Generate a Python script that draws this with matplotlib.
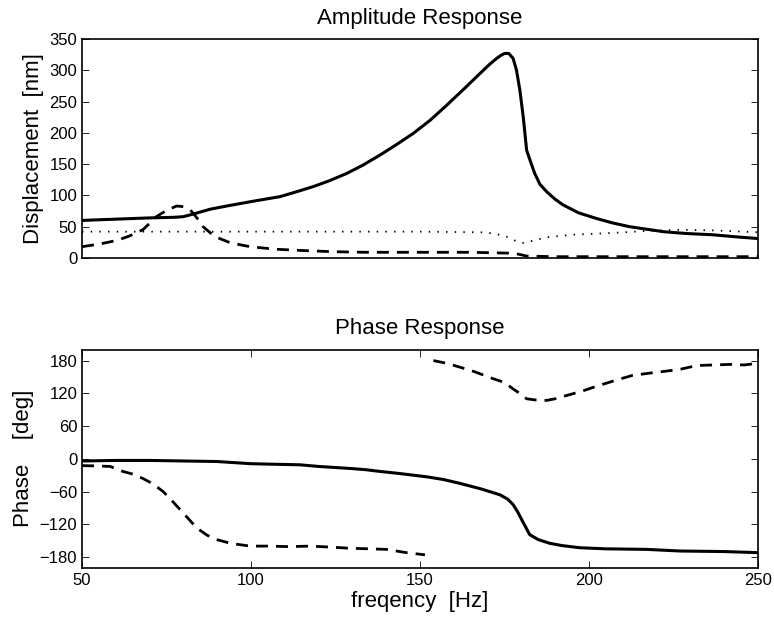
import matplotlib.pyplot as plt
import numpy as np

plt.rcParams['font.family'] = ['Liberation Sans', 'DejaVu Sans']
plt.rcParams['xtick.direction'] = 'in'
plt.rcParams['ytick.direction'] = 'in'

# amplitude: solid line
amp1_f = [50, 60, 70, 77.5, 80, 82.8, 88, 93.8, 101, 108.6, 113, 118.4, 123, 128.3, 133, 138.2, 143,
          148, 153, 157.9, 163, 167.8, 170.5, 172.7, 174, 175.1, 176.3, 177.6, 178.6, 179.6, 180.6,
          181.6, 183, 184, 185.5, 187.5, 190, 192.3, 197, 202.3, 207, 212, 217, 222, 229, 236.7, 243, 250]
amp1_v = [60, 62, 64, 65, 66, 70, 78, 84, 91, 98, 105, 114, 123, 135, 148, 164.5, 181,
          199, 220, 244, 270, 295, 309, 319, 324, 327, 327, 319, 300, 268, 225,
          172, 150, 135, 118, 106, 94, 85, 72, 63, 56, 50, 46, 42, 39, 37, 34, 31]

# amplitude: dashed line
amp2_f = [50, 55, 60.3, 64, 68, 72, 75, 78, 80, 82, 84, 85.8, 88, 89.8, 94, 99.7, 107, 114.5, 124, 134,
          150, 165, 177.6, 180, 181.5, 190, 210, 230, 250]
amp2_v = [18, 22, 28, 35, 45, 66, 76, 83, 82, 77, 64, 50, 40, 33, 24, 18, 14, 12, 10, 9,
          9, 9, 7.5, 5, 3, 2, 2, 2, 2]

# amplitude: dotted line
amp3_f = [50, 80, 100, 130, 150, 168, 172, 175.6, 178, 180.5, 183, 187.5, 195, 207, 217, 227, 237, 250]
amp3_v = [42, 42, 42, 42, 42, 41, 39, 34, 28, 24, 27, 33, 37, 40, 43, 45, 44, 41]

# phase: solid line
ph1_f = [50, 60, 70, 80, 90, 100, 107, 114.5, 120, 130, 134, 138, 144, 152, 157, 161.8, 168, 173.7,
         176, 177.6, 179, 180.6, 182.5, 185, 188.5, 192, 197.3, 205, 217, 227, 240, 250]
ph1_v = [-4, -3, -3, -4, -5, -9, -10, -11, -14, -18, -20, -23, -27, -33, -38, -45, -55, -66,
         -74, -84, -98, -117, -139, -148, -155, -159, -163, -165, -166, -169, -170, -172]

# phase: dashed line, lower part (before wrap)
ph2a_f = [50, 54, 58.3, 62, 65, 68, 71, 74, 76.5, 79, 81.5, 84, 87, 89.8, 94, 99.7, 105, 111.5, 117.5,
          124, 129.3, 135, 140, 146, 151.5]
ph2a_v = [-12.5, -13, -14, -23, -28, -36, -46, -60, -76, -93, -110, -127, -140, -148, -155, -160, -160,
          -161, -160, -162, -164, -165, -166, -172, -176]

# phase: dashed line, upper part (after wrap)
ph2b_f = [154, 158, 161.8, 166, 171.6, 175, 177.6, 180, 181.6, 184, 187.5, 190, 193.4, 198, 202.3,
          208, 213, 218, 222, 227, 232, 237, 241.7, 246, 250]
ph2b_v = [180, 175, 168, 160, 147, 140, 128, 118, 110, 108, 107, 110, 116, 124, 133,
          144, 153, 157, 160, 164, 171, 172, 173, 172, 175]

fig = plt.figure(figsize=(7.74, 6.2), dpi=100)

ax1 = fig.add_axes([0.106, 0.584, 0.873, 0.353])
ax1.plot(amp1_f, amp1_v, 'k-', lw=2.2)
ax1.plot(amp2_f, amp2_v, 'k--', lw=2.0, dashes=(4.3, 2.9))
ax1.plot(amp3_f, amp3_v, 'k:', lw=1.3, dashes=(0.8, 4))
ax1.set_xlim(50, 250)
ax1.set_ylim(0, 350)
ax1.set_xticks([])
ax1.set_yticks(np.arange(0, 351, 50))
ax1.tick_params(axis='y', right=True, labelsize=12, length=5, width=0.6)
ax1.set_ylabel('Displacement  [nm]', fontsize=16)
ax1.set_title('Amplitude Response', fontsize=16, pad=11)

ax2 = fig.add_axes([0.106, 0.084, 0.873, 0.352])
ax2.plot(ph1_f, ph1_v, 'k-', lw=2.2)
ax2.plot(ph2a_f, ph2a_v, 'k--', lw=2.0, dashes=(4.3, 2.9))
ax2.plot(ph2b_f, ph2b_v, 'k--', lw=2.0, dashes=(4.3, 2.9))
ax2.set_xlim(50, 250)
ax2.set_ylim(-200, 200)
ax2.set_xticks([50, 100, 150, 200, 250])
ax2.set_yticks(np.arange(-180, 181, 60))
ax2.set_yticklabels(['\u2212180', '\u2212120', '\u221260', '0', '60', '120', '180'])
ax2.tick_params(right=True, top=True, labelsize=12, length=5, width=0.6)
ax2.set_ylabel('Phase    [deg]', fontsize=16)
ax2.set_xlabel('freqency  [Hz]', fontsize=16, labelpad=2)
ax2.set_title('Phase Response', fontsize=16, pad=11)

for ax in (ax1, ax2):
    for s in ax.spines.values():
        s.set_linewidth(1.2)

plt.savefig('out.png', dpi=100)
